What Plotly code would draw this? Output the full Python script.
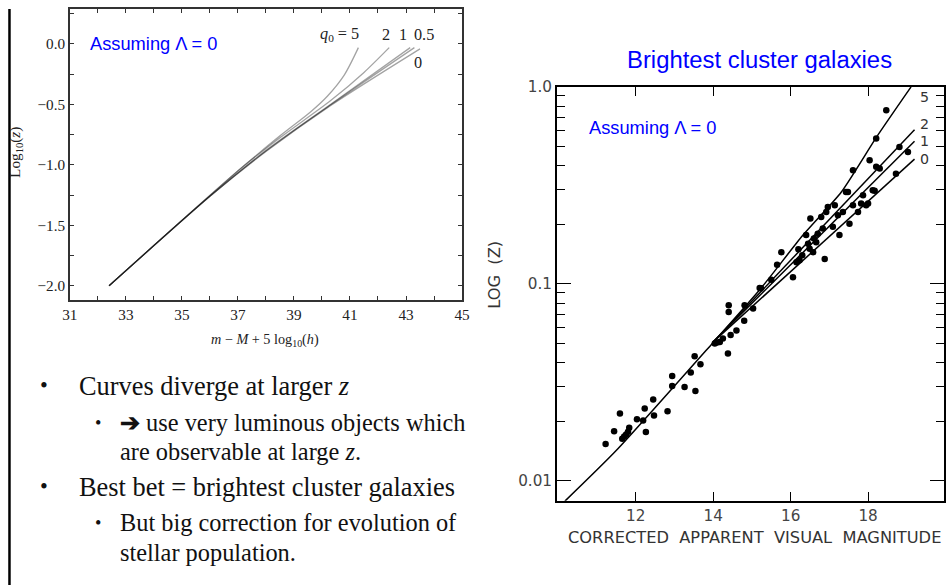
import plotly.graph_objects as go

# ---------------- Left panel: log10(z) vs m - M + 5 log10(h) ----------------
q5_mu = [32.4, 37.1, 38.5, 39.6, 40.2, 40.8, 41.3]
q5_logz = [-2.0, -1.03, -0.76, -0.56, -0.43, -0.255, -0.03]
q2_mu = [32.4, 37.1, 38.5, 40.3, 41.5, 42.4]
q2_logz = [-2.0, -1.03, -0.775, -0.47, -0.235, -0.03]
q1_mu = [32.4, 36.0, 38.0, 40.3, 43.15]
q1_logz = [-2.0, -1.26, -0.88, -0.50, -0.03]
q05_mu = [32.4, 36.0, 38.0, 40.3, 43.3]
q05_logz = [-2.0, -1.26, -0.885, -0.505, -0.03]
q00_mu = [32.4, 36.0, 38.0, 40.3, 43.5]
q00_logz = [-2.0, -1.26, -0.89, -0.51, -0.04]

left_xticks = [31, 33, 35, 37, 39, 41, 43, 45]
left_yticks = [-2.0, -1.5, -1.0, -0.5, 0.0]
left_ytext = ["\u22122.0", "\u22121.5", "\u22121.0", "\u22120.5", "0.0"]

# ---------------- Right panel: brightest cluster galaxies ----------------
bcg_mag = [11.22, 11.44, 11.59, 11.65, 11.70, 11.75, 11.80, 11.83, 12.03, 12.19,
           12.23, 12.26, 12.45, 12.47, 12.82, 12.94, 12.94, 13.26, 13.42, 13.52,
           13.54, 13.67, 14.04, 14.10, 14.17, 14.25, 14.38, 14.40, 14.40, 14.45,
           14.60, 14.80, 14.81, 15.03, 15.20, 15.24, 15.50, 15.65, 15.76, 16.06,
           16.15, 16.20, 16.23, 16.30, 16.40, 16.45, 16.49, 16.51, 16.58, 16.60,
           16.66, 16.70, 16.79, 16.83, 16.88, 16.92, 16.96, 17.09, 17.14, 17.22,
           17.26, 17.35, 17.43, 17.48, 17.52, 17.61, 17.61, 17.74, 17.82, 17.87,
           17.95, 18.00, 18.04, 18.12, 18.17, 18.21, 18.21, 18.30, 18.47, 18.72,
           18.81, 19.03]
bcg_z = [0.0154, 0.0179, 0.0220, 0.0164, 0.0168, 0.0172, 0.0178, 0.0186, 0.0206, 0.0203,
         0.0233, 0.0177, 0.0259, 0.0215, 0.0226, 0.0341, 0.0303, 0.0300, 0.0355, 0.0430,
         0.0286, 0.0391, 0.0498, 0.0505, 0.0508, 0.0528, 0.0443, 0.0780, 0.0720, 0.0550,
         0.0580, 0.0650, 0.0780, 0.0750, 0.0955, 0.0950, 0.1050, 0.1250, 0.1450, 0.1080,
         0.1290, 0.1500, 0.1320, 0.1400, 0.1770, 0.1600, 0.1510, 0.2150, 0.1450, 0.1700,
         0.1630, 0.1800, 0.2190, 0.1910, 0.1340, 0.2320, 0.2460, 0.1950, 0.2510, 0.2230,
         0.1770, 0.2320, 0.2930, 0.2930, 0.2020, 0.3780, 0.2510, 0.2320, 0.2560, 0.2820,
         0.2510, 0.2560, 0.4250, 0.2990, 0.2970, 0.3930, 0.5470, 0.3850, 0.7620, 0.3630,
         0.4960, 0.4680]

line5_mag = [10.17, 11.5, 14.0, 15.24, 16.32, 17.31, 18.21, 19.11]
line5_z = [0.0079, 0.0143, 0.0505, 0.0955, 0.177, 0.293, 0.553, 1.0]
line2_mag = [14.0, 19.2]
line2_z = [0.0508, 0.607]
line1_mag = [14.0, 19.2]
line1_z = [0.0508, 0.530]
line0_mag = [14.0, 19.2]
line0_z = [0.0508, 0.430]

right_xticks = [12, 14, 16, 18]
right_yticks = [0.01, 0.1, 1.0]
right_ytext = ["0.01", "0.1", "1.0"]
right_yminor = [0.02, 0.03, 0.04, 0.05, 0.06, 0.07, 0.08, 0.09,
                0.2, 0.3, 0.4, 0.5, 0.6, 0.7, 0.8, 0.9]

# ---------------- layout helpers ----------------
W, H = 952, 585
S = 0.9853      # the snapshot shows the page slightly reduced and inset by ~7 px
INSET = 7.0

def fx(X):
    """slide x (px) -> paper fraction"""
    return min(1.0, max(0.0, (X - INSET) / S / W))

def fy(Y):
    """slide y (px, from top) -> paper fraction"""
    return min(1.0, max(0.0, 1 - (Y - INSET) / S / H))

def fs(size):
    return round(size / S, 2)

SERIF = "Liberation Serif, Times New Roman, serif"
SANS = "Liberation Sans, Arial, sans-serif"
OLD = "DejaVu Sans, sans-serif"
BLUE = "#0000FF"

fig = go.Figure()

curve_color = "rgba(0,0,0,0.36)"
for mu, lz in [(q5_mu, q5_logz), (q2_mu, q2_logz), (q1_mu, q1_logz),
               (q05_mu, q05_logz), (q00_mu, q00_logz)]:
    fig.add_trace(go.Scatter(x=mu, y=lz, mode="lines", xaxis="x", yaxis="y",
                             line=dict(color=curve_color, width=1.3, shape="spline", smoothing=0.8),
                             showlegend=False, hoverinfo="skip"))

for mg, zz in [(line5_mag, line5_z), (line2_mag, line2_z), (line1_mag, line1_z), (line0_mag, line0_z)]:
    fig.add_trace(go.Scatter(x=mg, y=zz, mode="lines", xaxis="x2", yaxis="y2",
                             line=dict(color="black", width=1.5, shape="spline", smoothing=0.6),
                             showlegend=False, hoverinfo="skip"))

fig.add_trace(go.Scatter(x=bcg_mag, y=bcg_z, mode="markers", xaxis="x2", yaxis="y2",
                         marker=dict(color="black", size=6.5),
                         showlegend=False, hoverinfo="skip"))

annotations = []
def ann(text, x, y, size, color="#111", family=SERIF, xanchor="left", yanchor="middle",
        xref="paper", yref="paper", textangle=0):
    annotations.append(dict(text=text, x=x, y=y, xref=xref, yref=yref, showarrow=False,
                            xanchor=xanchor, yanchor=yanchor, textangle=textangle,
                            font=dict(size=fs(size), color=color, family=family)))

# Left panel labels
ann("Assuming \u039b = 0", fx(87), fy(42), 18, BLUE, SANS)
ann("<i>q</i><sub>0</sub> = 5", 41.4, 0.075, 16, "#222", SERIF, "right", "middle", "x", "y")
ann("2", 42.3, 0.075, 16, "#222", SERIF, "center", "middle", "x", "y")
ann("1", 42.9, 0.075, 16, "#222", SERIF, "center", "middle", "x", "y")
ann("0.5", 43.66, 0.075, 16, "#222", SERIF, "center", "middle", "x", "y")
ann("0", 43.44, -0.16, 16, "#222", SERIF, "center", "middle", "x", "y")
ann("<i>m</i> \u2212 <i>M</i> + 5 log<sub>10</sub>(<i>h</i>)", fx(265), fy(338), 14, "#222", SERIF, "center")
ann("Log<sub>10</sub>(<i>z</i>)", fx(15), fy(150), 15, "#222", SERIF, "center", textangle=-90)

# Right panel labels
ann("Brightest cluster galaxies", fx(760), fy(58), 23.5, BLUE, SANS, "center")
ann("Assuming \u039b = 0", fx(587), fy(126), 18, BLUE, SANS)
ann("CORRECTED  APPARENT  VISUAL  MAGNITUDE", fx(755), fy(536), 16, "#333", OLD, "center")
ann("LOG  (Z)", fx(495), fy(273), 16, "#333", OLD, "center", textangle=-90)
ann("5", 19.46, -0.051, 14, "#333", OLD, "center", "middle", "x2", "y2")
ann("2", 19.46, -0.19, 14, "#333", OLD, "center", "middle", "x2", "y2")
ann("1", 19.46, -0.275, 14, "#333", OLD, "center", "middle", "x2", "y2")
ann("0", 19.46, -0.365, 14, "#333", OLD, "center", "middle", "x2", "y2")

# Bullets
ann("\u2022", fx(43), fy(384), 22, "#111", SERIF, "center")
ann("Curves diverge at larger <i>z</i>", fx(76), fy(384), 26, "#111", SERIF)
ann("\u2022", fx(97), fy(421), 18, "#111", SERIF, "center")
ann("<b>\u2794</b> use very luminous objects which", fx(117), fy(421), 24, "#111", SERIF)
ann("are observable at large <i>z</i>.", fx(117), fy(450), 24, "#111", SERIF)
ann("\u2022", fx(43), fy(485), 22, "#111", SERIF, "center")
ann("Best bet = brightest cluster galaxies", fx(76), fy(485), 26, "#111", SERIF)
ann("\u2022", fx(97), fy(521), 18, "#111", SERIF, "center")
ann("But big correction for evolution of", fx(117), fy(521), 24, "#111", SERIF)
ann("stellar population.", fx(117), fy(551), 24, "#111", SERIF)

# left panel: top edge is clipped to the page, so trim the range accordingly
left_ytop = 0.306 - max(0.0, (INSET - 5) / 120.8)
# right panel: right edge clipped to the page, trim the x range accordingly
right_xmax = 18 + (min(950, INSET + S * W) - 869) / 38.75

fig.update_layout(
    autosize=True,
    margin=dict(l=0, r=0, t=0, b=0),
    paper_bgcolor="white", plot_bgcolor="white",
    showlegend=False,
    annotations=annotations,
    shapes=[dict(type="line", xref="paper", yref="paper", x0=1.5 / W, x1=1.5 / W, y0=fy(590), y1=1,
                 line=dict(color="black", width=2.5))],
    xaxis=dict(domain=[fx(69), fx(462)], range=[31, 45], anchor="y",
               showline=True, linecolor="#333", linewidth=1.5, mirror="ticks",
               ticks="inside", ticklen=4, tickcolor="#333",
               tickvals=left_xticks, ticktext=[str(v) for v in left_xticks],
               minor=dict(tickvals=[32, 34, 36, 38, 40, 42, 44], ticks="inside", ticklen=4, tickcolor="#333"),
               showgrid=False, zeroline=False,
               tickfont=dict(family=SERIF, size=fs(15), color="#222")),
    yaxis=dict(domain=[fy(298), fy(5)], range=[-2.116, left_ytop], anchor="x",
               showline=True, linecolor="#333", linewidth=1.5, mirror="ticks",
               ticks="inside", ticklen=4, tickcolor="#333",
               tickvals=left_yticks, ticktext=left_ytext,
               minor=dict(tickvals=[-1.75, -1.25, -0.75, -0.25, 0.25], ticks="inside", ticklen=4, tickcolor="#333"),
               showgrid=False, zeroline=False,
               tickfont=dict(family=SERIF, size=fs(15), color="#222")),
    xaxis2=dict(domain=[fx(557), fx(950)], range=[9.96, right_xmax], anchor="y2",
                showline=True, linecolor="black", linewidth=1.5, mirror="ticks",
                ticks="inside", ticklen=9, tickcolor="black", tickwidth=1.3,
                tickvals=right_xticks, ticktext=[str(v) for v in right_xticks],
                showgrid=False, zeroline=False,
                tickfont=dict(family=OLD, size=fs(15), color="#444")),
    yaxis2=dict(domain=[fy(499), fy(85)], type="log", range=[-2.10, 0.0], anchor="x2",
                showline=True, linecolor="black", linewidth=1.5, mirror="ticks",
                ticks="inside", ticklen=14, tickcolor="black", tickwidth=1.3,
                tickvals=right_yticks, ticktext=right_ytext,
                minor=dict(tickvals=right_yminor, ticks="inside", ticklen=8, tickcolor="black", tickwidth=1.3),
                showgrid=False, zeroline=False,
                tickfont=dict(family=OLD, size=fs(15), color="#444")),
)

fig.write_html("out.html", config={"displayModeBar": False, "responsive": False},
               default_width="952px; position:absolute; left:0; top:0",
               default_height="585px")
